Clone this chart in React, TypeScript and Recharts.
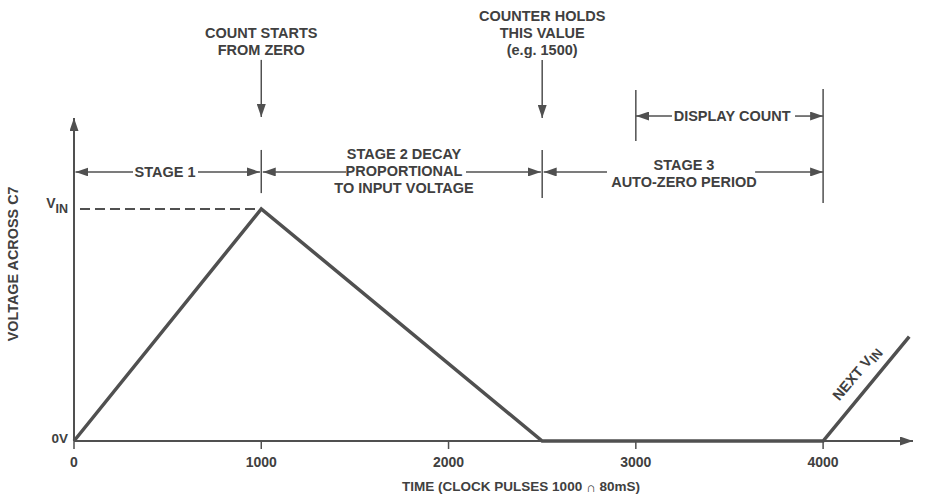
import React from 'react';
import {
  LineChart,
  Line,
  XAxis,
  YAxis,
  ReferenceLine,
  ReferenceDot,
} from 'recharts';

// Integrator voltage over one conversion cycle (time in clock pulses, voltage as fraction of VIN)
const timePoints = [0, 1000, 2500, 4000, 4460];
const voltagePoints = [0, 1, 0, 0, 0.45];
const xTicks = [0, 1000, 2000, 3000, 4000];
const yTicks = [0, 1];

// short vertical marker lines: [time, fromV, toV]
const markerLines: [number, number, number][] = [
  [1000, 1.068, 1.254],
  [2500, 1.047, 1.254],
  [4000, 1.025, 1.517],
  [3000, 1.293, 1.512],
];

// callout arrows pointing down: [time, fromV, toV]
const calloutArrows: [number, number, number][] = [
  [1000, 1.642, 1.396],
  [2500, 1.642, 1.392],
];

// dimension arrows broken by a label: [fromT, toT, gapStart, gapEnd, v]
const spanArrows: [number, number, number, number, number][] = [
  [8, 993, 315, 662, 1.159],
  [1008, 2493, 1453, 2093, 1.159],
  [2508, 4000, 2846, 3637, 1.159],
  [3001, 4000, 3193, 3850, 1.4],
];

// text notes: [time, volts, lines]
const notes: [number, number, string[]][] = [
  [1000, 1.721, ['COUNT STARTS', 'FROM ZERO']],
  [2500, 1.758, ['COUNTER HOLDS', 'THIS VALUE', '(e.g. 1500)']],
  [486, 1.159, ['STAGE 1']],
  [1762, 1.163, ['STAGE 2 DECAY', 'PROPORTIONAL', 'TO INPUT VOLTAGE']],
  [3257, 1.153, ['STAGE 3', 'AUTO-ZERO PERIOD']],
  [3514, 1.4, ['DISPLAY COUNT']],
];

const chartData = timePoints.map((t, i) => ({ t, v: voltagePoints[i] }));

const INK = '#505050';
const TEXT = '#404040';
const FONT = '"Liberation Sans", Arial, sans-serif';

const arrowLine = (color: string, width: number) => (p: any) => (
  <line
    x1={p.x1}
    y1={p.y1}
    x2={p.x2}
    y2={p.y2}
    stroke={color}
    strokeWidth={width}
    markerEnd="url(#arrowHead)"
  />
);

const NoteText = ({ viewBox, lines, angle = 0, size = 14.5 }: any) => {
  const cx = viewBox.x + viewBox.width / 2;
  const cy = viewBox.y + viewBox.height / 2;
  const lh = 17;
  const top = cy - ((lines.length - 1) * lh) / 2;
  return (
    <text
      x={cx}
      y={top}
      textAnchor="middle"
      dominantBaseline="central"
      fill={TEXT}
      fontFamily={FONT}
      fontWeight="bold"
      fontSize={size}
      transform={angle ? `rotate(${angle}, ${cx}, ${cy})` : undefined}
    >
      {lines.map((l: string, i: number) => (
        <tspan key={i} x={cx} dy={i === 0 ? 0 : lh}>
          {l}
        </tspan>
      ))}
    </text>
  );
};

const XTick = ({ x, y, payload }: any) => (
  <text x={x} y={y} dy={16} textAnchor="middle" fill={TEXT} fontFamily={FONT} fontWeight="bold" fontSize={14}>
    {payload.value}
  </text>
);

const YTick = ({ x, y, payload }: any) => {
  if (payload.value === 0) {
    return (
      <text x={x} y={y} dy={2} textAnchor="end" fill={TEXT} fontFamily={FONT} fontWeight="bold" fontSize={13.5}>
        0V
      </text>
    );
  }
  return (
    <text x={x} y={y} textAnchor="end" fill={TEXT} fontFamily={FONT} fontWeight="bold" fontSize={14}>
      <tspan dy={-1}>V</tspan>
      <tspan dy={5} fontSize={12.5}>IN</tspan>
    </text>
  );
};

const hidden = { r: 0, fill: 'none', stroke: 'none', ifOverflow: 'visible' as const };

export default function App() {
  return (
    <div style={{ position: 'absolute', left: 0, top: 0, width: 926, height: 496, background: '#fff' }}>
      <LineChart width={926} height={496} data={chartData} margin={{ top: 0, right: 13, bottom: 25, left: 44 }}>
        <defs>
          <marker
            id="arrowHead"
            markerUnits="userSpaceOnUse"
            markerWidth={13}
            markerHeight={9}
            refX={13}
            refY={4.5}
            orient="auto"
          >
            <path d="M0,0 L13,4.5 L0,9 z" fill={INK} />
          </marker>
        </defs>
        <XAxis
          dataKey="t"
          type="number"
          domain={[0, 4480]}
          ticks={xTicks}
          axisLine={false}
          tickSize={8}
          tickMargin={2}
          tickLine={{ stroke: INK, strokeWidth: 1.5 }}
          tick={<XTick />}
          height={30}
          interval={0}
        />
        <YAxis
          type="number"
          domain={[0, 1.9]}
          ticks={yTicks}
          axisLine={false}
          tickLine={false}
          tickSize={4}
          tickMargin={2}
          tick={<YTick />}
          width={30}
        />

        {/* axes with arrowheads */}
        <ReferenceLine segment={[{ x: 0, y: 0 }, { x: 4480, y: 0 }]} ifOverflow="visible" shape={arrowLine(INK, 2)} />
        <ReferenceLine segment={[{ x: 0, y: 0 }, { x: 0, y: 1.392 }]} ifOverflow="visible" shape={arrowLine(INK, 2)} />

        {/* VIN dashed level */}
        <ReferenceLine
          segment={[{ x: 32, y: 1 }, { x: 1000, y: 1 }]}
          stroke={INK}
          strokeWidth={2}
          strokeDasharray="10 5"
          ifOverflow="visible"
        />

        {markerLines.map(([t, a, b], i) => (
          <ReferenceLine
            key={`m${i}`}
            segment={[{ x: t, y: a }, { x: t, y: b }]}
            stroke={INK}
            strokeWidth={1.5}
            ifOverflow="visible"
          />
        ))}

        {calloutArrows.map(([t, a, b], i) => (
          <ReferenceLine
            key={`c${i}`}
            segment={[{ x: t, y: a }, { x: t, y: b }]}
            ifOverflow="visible"
            shape={arrowLine(INK, 1.5)}
          />
        ))}

        {spanArrows.map(([from, to, g0, g1, v], i) => (
          <React.Fragment key={`s${i}`}>
            <ReferenceLine
              segment={[{ x: g0, y: v }, { x: from, y: v }]}
              ifOverflow="visible"
              shape={arrowLine(INK, 1.5)}
            />
            <ReferenceLine
              segment={[{ x: g1, y: v }, { x: to, y: v }]}
              ifOverflow="visible"
              shape={arrowLine(INK, 1.5)}
            />
          </React.Fragment>
        ))}

        {notes.map(([t, v, lines], i) => (
          <ReferenceDot
            key={`n${i}`}
            x={t}
            y={v}
            {...hidden}
            label={{ content: (p: any) => <NoteText viewBox={p.viewBox} lines={lines} /> }}
          />
        ))}

        {/* axis titles and series note */}
        <ReferenceDot
          x={-326}
          y={0.763}
          {...hidden}
          label={{ content: (p: any) => <NoteText viewBox={p.viewBox} lines={['VOLTAGE ACROSS C7']} angle={-90} size={14.4} /> }}
        />
        <ReferenceDot
          x={2387}
          y={-0.197}
          {...hidden}
          label={{
            content: (p: any) => {
              const cx = p.viewBox.x;
              const cy = p.viewBox.y;
              return (
                <text x={cx} y={cy} textAnchor="middle" dominantBaseline="central" fill={TEXT} fontFamily={FONT} fontWeight="bold" fontSize={13.5}>
                  TIME (CLOCK PULSES 1000 <tspan fontSize={13.5}>{'\u2229'}</tspan> 80mS)
                </text>
              );
            },
          }}
        />
        <ReferenceDot
          x={4178}
          y={0.292}
          {...hidden}
          label={{
            content: (p: any) => {
              const cx = p.viewBox.x;
              const cy = p.viewBox.y;
              return (
                <text
                  x={cx}
                  y={cy}
                  textAnchor="middle"
                  dominantBaseline="central"
                  fill={TEXT}
                  fontFamily={FONT}
                  fontWeight="bold"
                  fontSize={14.5}
                  transform={`rotate(-50, ${cx}, ${cy})`}
                >
                  NEXT V<tspan dy={3} fontSize={13}>IN</tspan>
                </text>
              );
            },
          }}
        />

        <Line
          type="linear"
          dataKey="v"
          stroke={INK}
          strokeWidth={3.5}
          dot={false}
          activeDot={false}
          isAnimationActive={false}
        />
      </LineChart>
    </div>
  );
}
